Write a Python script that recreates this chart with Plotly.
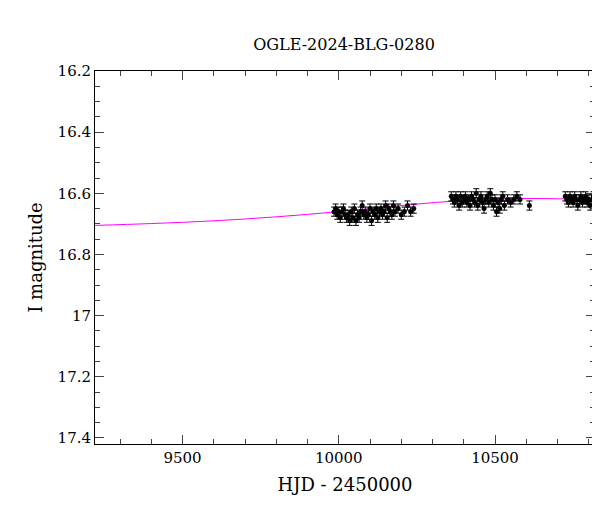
import plotly.graph_objects as go

hjd1 = [9985,9990,9995,10000,10005,10010,10015,10020,10025,10030,10035,10040,10045,10050,10055,10060,10065,10070,10075,10080,10085,10090,10095,10100,10105,10110,10115,10120,10125,10130,10135,10140,10145,10150,10155,10160,10165,10170,10175,10180,10190,10200,10210,10220,10230,10240]
mag1 = [16.66,16.65,16.67,16.66,16.68,16.66,16.65,16.67,16.68,16.67,16.69,16.66,16.68,16.65,16.69,16.67,16.68,16.66,16.64,16.67,16.66,16.68,16.67,16.65,16.69,16.66,16.67,16.65,16.68,16.66,16.65,16.67,16.66,16.64,16.68,16.65,16.66,16.67,16.64,16.66,16.65,16.67,16.66,16.64,16.66,16.65]
hjd2 = [10360,10365,10370,10375,10380,10385,10390,10395,10400,10405,10410,10415,10420,10425,10430,10435,10440,10445,10450,10455,10460,10465,10470,10475,10480,10485,10490,10495,10500,10505,10510,10515,10520,10525,10530,10540,10550,10560,10570,10580,10610]
mag2 = [16.61,16.62,16.63,16.61,16.62,16.64,16.61,16.63,16.62,16.61,16.63,16.62,16.64,16.61,16.62,16.63,16.60,16.64,16.62,16.61,16.63,16.65,16.62,16.61,16.63,16.60,16.62,16.64,16.62,16.66,16.63,16.65,16.62,16.61,16.64,16.62,16.63,16.62,16.61,16.62,16.64]
hjd3 = [10725,10730,10735,10740,10745,10750,10755,10760,10765,10770,10775,10780,10785,10790,10795,10800,10805,10810,10815]
mag3 = [16.61,16.62,16.63,16.61,16.62,16.63,16.61,16.62,16.64,16.62,16.61,16.63,16.62,16.61,16.63,16.62,16.64,16.62,16.61]
err = 0.015
model_x = [9220,9400,9600,9800,10000,10200,10350,10500,10600,10700,10820]
model_y = [16.705,16.699,16.69,16.677,16.66,16.64,16.627,16.619,16.617,16.618,16.62]
x_ticks = [9500, 10000, 10500]
y_ticks = [16.2,16.4,16.6,16.8,17,17.2,17.4]
y_labels = ["16.2","16.4","16.6","16.8","17","17.2","17.4"]

fig = go.Figure()
fig.add_trace(go.Scatter(x=model_x, y=model_y, mode="lines", line=dict(color="magenta", width=1, shape="spline")))
for hx, hy in [(hjd1, mag1), (hjd2, mag2), (hjd3, mag3)]:
    fig.add_trace(go.Scatter(x=hx, y=hy, mode="markers", marker=dict(color="black", size=5),
                             error_y=dict(type="constant", value=err, color="black", thickness=1, width=3)))
font = dict(family="DejaVu Serif", size=15, color="black")
fig.update_layout(width=600, height=512, showlegend=False, plot_bgcolor="white", paper_bgcolor="white",
                  margin=dict(l=87, r=13, t=63, b=76), font=font,
                  title=dict(text="OGLE-2024-BLG-0280", x=0.56, y=0.94, xanchor="center",
                             font=dict(family="DejaVu Serif", size=16, color="black")))
fig.update_xaxes(range=[9220, 10820], tickvals=x_ticks, ticktext=[str(v) for v in x_ticks], ticks="inside", ticklen=9,
                 mirror="allticks", automargin=False,
                 showline=True, linecolor="black", linewidth=1, showgrid=False, zeroline=False,
                 minor=dict(dtick=100, ticks="inside", ticklen=5, tick0=9200),
                 title=dict(text="HJD - 2450000", standoff=12))
fig.update_yaxes(range=[17.42, 16.2], tickvals=y_ticks, ticktext=y_labels, ticks="inside", ticklen=9,
                 mirror="allticks", automargin=False,
                 showline=True, linecolor="black", linewidth=1, showgrid=False, zeroline=False,
                 minor=dict(dtick=0.05, ticks="inside", ticklen=5, tick0=16.2),
                 title=dict(text="I magnitude", standoff=10))
fig.write_html("out.html")
